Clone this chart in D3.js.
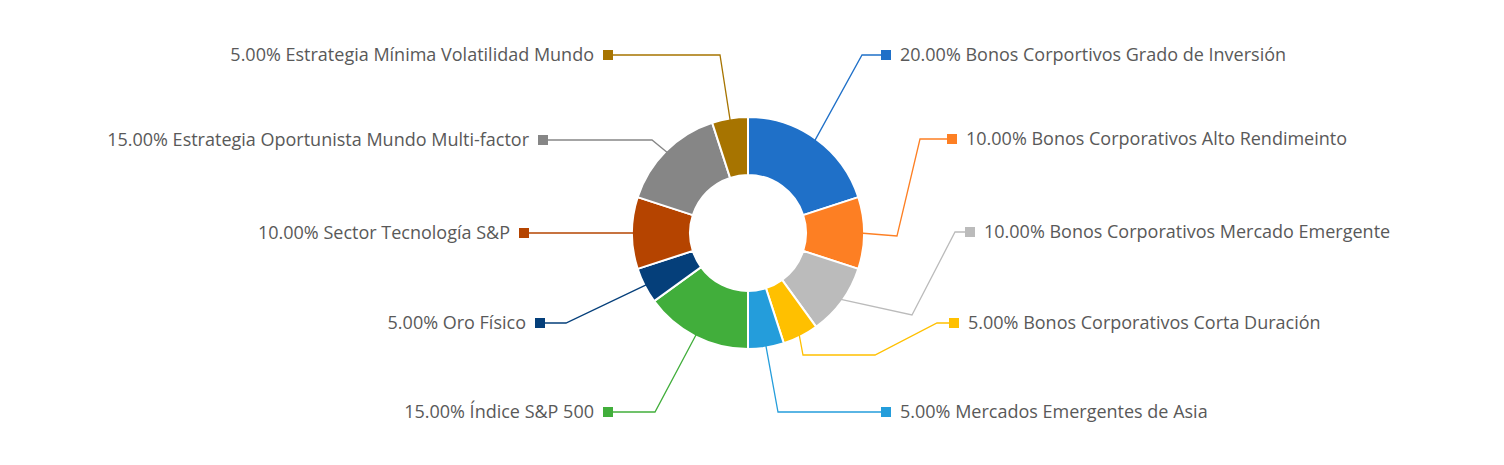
<!DOCTYPE html>
<html><head><meta charset="utf-8">
<script src="https://cdn.jsdelivr.net/npm/d3@7"></script>
<style>body{margin:0;background:#fff}text{font-family:"Open Sans",sans-serif}</style>
</head><body><svg id="c" width="1504" height="465"></svg>
<script>
const categories=["Bonos Corportivos Grado de Inversión","Bonos Corporativos Alto Rendimeinto","Bonos Corporativos Mercado Emergente","Bonos Corporativos Corta Duración","Mercados Emergentes de Asia","Índice S&P 500","Oro Físico","Sector Tecnología S&P","Estrategia Oportunista Mundo Multi-factor","Estrategia Mínima Volatilidad Mundo"];
const values=[20,10,10,5,5,15,5,10,15,5];
const colors=["#1f70c8","#fd7f23","#bbbbbb","#ffc000","#249ddb","#41ae3b","#053f7a","#b54400","#868686","#a77400"];
// label layout: elbow points (px) then marker x, y, side
const layout=[
 {pts:[[862,55]],mx:886,y:55,side:1},
 {pts:[[897,236],[920,139]],mx:952,y:139,side:1},
 {pts:[[912,315],[955,232]],mx:970,y:232,side:1},
 {pts:[[803,355],[875,355],[937,323]],mx:954,y:323,side:1},
 {pts:[[778,412]],mx:886,y:412,side:1},
 {pts:[[655,412]],mx:608,y:412,side:-1},
 {pts:[[566,323]],mx:540,y:323,side:-1},
 {pts:[],mx:524,y:233,side:-1},
 {pts:[[652,140]],mx:543,y:140,side:-1},
 {pts:[[720,55]],mx:608,y:55,side:-1}
];
const cx=748,cy=233,R=116,r=58;
const svg=d3.select("#c");
const g=svg.append("g").attr("transform",`translate(${cx},${cy})`);
const pie=d3.pie().sort(null).value(d=>d)(values);
const arc=d3.arc().innerRadius(r).outerRadius(R);
g.selectAll("path").data(pie).join("path").attr("d",arc).attr("fill",(d,i)=>colors[i]).attr("stroke","#fff").attr("stroke-width",2);
const total=d3.sum(values);
pie.forEach((d,i)=>{
  const a=(d.startAngle+d.endAngle)/2;
  const s=[cx+Math.sin(a)*(R-4),cy-Math.cos(a)*(R-4)];
  const L=layout[i];
  const pts=[s,...L.pts,[L.mx,L.y]];
  svg.append("polyline").attr("points",pts.map(p=>p.join(",")).join(" ")).attr("fill","none").attr("stroke",colors[i]).attr("stroke-width",1.3);
  svg.append("rect").attr("x",L.mx-5).attr("y",L.y-5).attr("width",10).attr("height",10).attr("fill",colors[i]);
  svg.append("text").attr("x",L.mx+L.side*14).attr("y",L.y).attr("dy","0.35em")
    .attr("text-anchor",L.side>0?"start":"end").attr("font-size",18).attr("fill","#595959")
    .text((values[i]/total*100).toFixed(2)+"% "+categories[i]);
});
</script></body></html>
